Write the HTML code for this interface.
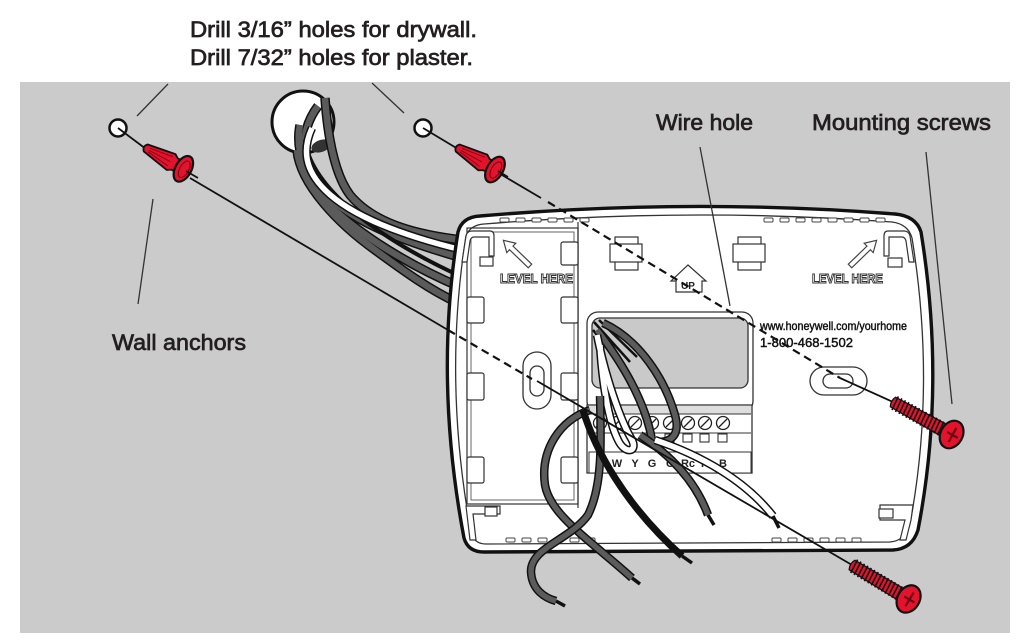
<!DOCTYPE html>
<html><head><meta charset="utf-8"><style>
html,body{margin:0;padding:0;background:#fff;}
svg{display:block;}
.lbl{font-family:"Liberation Sans",Arial,sans-serif;font-size:22px;fill:#231f20;stroke:#231f20;stroke-width:0.7;}
.sm{font-family:"Liberation Sans",Arial,sans-serif;}
</style></head><body>
<svg width="1024" height="640" viewBox="0 0 1024 640" xmlns="http://www.w3.org/2000/svg">
<rect x="0" y="0" width="1024" height="640" fill="#fff"/>
<rect x="20" y="82" width="990" height="551" fill="#cbcbcb"/>

<!-- labels -->
<text class="lbl" x="190" y="37" textLength="287" lengthAdjust="spacingAndGlyphs">Drill 3/16” holes for drywall.</text>
<text class="lbl" x="190" y="65" textLength="283" lengthAdjust="spacingAndGlyphs">Drill 7/32” holes for plaster.</text>
<text class="lbl" x="656" y="130" textLength="97" lengthAdjust="spacingAndGlyphs">Wire hole</text>
<text class="lbl" x="812" y="130" textLength="179" lengthAdjust="spacingAndGlyphs">Mounting screws</text>
<text class="lbl" x="112" y="350" textLength="134" lengthAdjust="spacingAndGlyphs">Wall anchors</text>

<!-- leader lines -->
<g stroke="#333" stroke-width="1.3" fill="none">
<path d="M168 84 L137 116"/>
<path d="M372 83 L404 113"/>
<path d="M153 199 L138 304"/>
<path d="M926 152 L952 404"/>
</g>

<!-- drill holes -->
<circle cx="118" cy="128" r="8.5" fill="#fff" stroke="#111" stroke-width="2.5"/>
<circle cx="423" cy="128" r="8.5" fill="#fff" stroke="#111" stroke-width="2.5"/>

<!-- axis lines outside -->
<g stroke="#111" stroke-width="1.8" fill="none">
<path d="M118 128 L146 149"/>
<path d="M423 128 L458 149"/>
<path d="M190 178 L448 330"/>
<path d="M502 175 L541 198"/>
</g>

<!-- wall hole -->
<circle cx="303" cy="122" r="31" fill="#fff" stroke="#111" stroke-width="3"/>
<ellipse cx="321" cy="146" rx="10" ry="6" fill="#333" transform="rotate(-20 321 146)"/>

<!-- bundle wires -->
<g fill="none" stroke-linecap="butt">
<g stroke="#111" stroke-width="9.5">
<path d="M325 98 C328 140 335 175 350 195 C375 225 420 235 462 240"/>
<path d="M318 106 C300 130 300 160 318 185 C345 220 400 240 462 258"/>
<path d="M300 125 C295 150 305 185 340 215 C375 245 420 270 460 287"/>
<path d="M297 150 C300 185 340 225 375 250 C405 272 430 290 458 303"/>
</g>
<g stroke="#5b5b5b" stroke-width="6.5">
<path d="M325 98 C328 140 335 175 350 195 C375 225 420 235 462 240"/>
<path d="M318 106 C300 130 300 160 318 185 C345 220 400 240 462 258"/>
<path d="M300 125 C295 150 305 185 340 215 C375 245 420 270 460 287"/>
<path d="M297 150 C300 185 340 225 375 250 C405 272 430 290 458 303"/>
</g>
<path d="M305 140 C310 180 360 230 460 276" stroke="#111" stroke-width="4"/>
<path d="M312 128 C302 150 305 170 325 190 C350 215 400 235 462 250" stroke="#111" stroke-width="8.5"/>
<path d="M312 128 C302 150 305 170 325 190 C350 215 400 235 462 250" stroke="#fff" stroke-width="5.5"/>
</g>

<!-- thermostat body -->
<path d="M480 216 Q690 198 895 214 Q916 216 921 232 Q946 385 918 530 Q912 549 893 550 L484 552 Q468 552 464 538 Q434 380 458 232 Q462 217 480 216 Z" fill="#fff" stroke="#111" stroke-width="3.4"/>
<path d="M484 224 Q690 207 892 222 Q908 224 912 238 Q936 385 910 524 Q905 541 890 542 L486 544 Q474 544 471 532 Q443 380 466 236 Q470 225 484 224 Z" fill="none" stroke="#333" stroke-width="1.3"/>

<!-- top/bottom dashes -->
<g fill="#fff" stroke="#444" stroke-width="1">
<rect x="500" y="218" width="9" height="4" rx="1"/><rect x="516" y="218" width="9" height="4" rx="1"/><rect x="532" y="218" width="9" height="4" rx="1"/><rect x="548" y="218" width="9" height="4" rx="1"/><rect x="564" y="218" width="9" height="4" rx="1"/><rect x="580" y="218" width="9" height="4" rx="1"/>
<rect x="764" y="218" width="9" height="4" rx="1"/><rect x="780" y="218" width="9" height="4" rx="1"/><rect x="796" y="218" width="9" height="4" rx="1"/><rect x="812" y="218" width="9" height="4" rx="1"/><rect x="828" y="218" width="9" height="4" rx="1"/><rect x="844" y="218" width="9" height="4" rx="1"/><rect x="860" y="218" width="9" height="4" rx="1"/><rect x="876" y="218" width="9" height="4" rx="1"/>
<rect x="506" y="538" width="9" height="4" rx="1"/><rect x="522" y="538" width="9" height="4" rx="1"/><rect x="538" y="538" width="9" height="4" rx="1"/><rect x="554" y="538" width="9" height="4" rx="1"/><rect x="570" y="538" width="9" height="4" rx="1"/><rect x="586" y="538" width="9" height="4" rx="1"/>
<rect x="772" y="538" width="9" height="4" rx="1"/><rect x="788" y="538" width="9" height="4" rx="1"/><rect x="804" y="538" width="9" height="4" rx="1"/><rect x="820" y="538" width="9" height="4" rx="1"/><rect x="836" y="538" width="9" height="4" rx="1"/><rect x="852" y="538" width="9" height="4" rx="1"/>
</g>

<!-- left plate -->
<g fill="none" stroke="#333" stroke-width="1.2">
<rect x="467" y="228" width="111" height="276"/>
<rect x="471" y="232" width="103" height="268" stroke="#555" stroke-width="0.9"/>
<path d="M578 222 L578 508"/>
</g>
<g fill="#fff" stroke="#333" stroke-width="1.2">
<rect x="467" y="297" width="17" height="26" rx="2"/>
<rect x="467" y="373" width="17" height="27" rx="2"/>
<rect x="467" y="457" width="17" height="26" rx="2"/>
<rect x="561" y="242" width="17" height="23" rx="2"/>
<rect x="561" y="297" width="17" height="26" rx="2"/>
<rect x="561" y="373" width="17" height="27" rx="2"/>
<rect x="561" y="457" width="17" height="26" rx="2"/>
</g>

<!-- corner clips -->
<g fill="#fff" stroke="#333" stroke-width="1.2">
<path d="M462 262 L466 236 Q467 231 472 231 L490 231 Q494 231 494 236 L494 256 L489 256 L489 237 L474 237 Q471 237 470 241 L467 262 Z"/>
<rect x="480" y="257" width="13" height="9"/>
<path d="M914 262 L910 236 Q909 231 904 231 L888 231 Q884 231 884 236 L884 256 L889 256 L889 237 L902 237 Q905 237 906 241 L909 262 Z"/>
<rect x="888" y="258" width="14" height="9"/>
<path d="M466 506 L500 506 L500 514 L473 514 L476 540 L470 540 Z"/>
<rect x="485" y="507" width="12" height="9"/>
<path d="M913 505 L880 505 L880 520 L905 520 L900 540 L906 540 L911 520 Z"/>
<rect x="879" y="509" width="14" height="9"/>
</g>

<!-- level arrows -->
<g fill="#fff" stroke="#444" stroke-width="1.2">
<polygon points="0,-2.5 26,-2.5 26,-6.5 37,0 26,6.5 26,2.5 0,2.5" transform="translate(530 266) rotate(-136)"/>
<polygon points="0,-2.5 26,-2.5 26,-6.5 37,0 26,6.5 26,2.5 0,2.5" transform="translate(850 266) rotate(-44)"/>
</g>
<text class="sm" x="500" y="283" font-size="13" font-weight="bold" fill="#fff" stroke="#333" stroke-width="1" textLength="73" lengthAdjust="spacingAndGlyphs">LEVEL  HERE</text>
<text class="sm" x="812" y="283" font-size="13" font-weight="bold" fill="#fff" stroke="#333" stroke-width="1" textLength="71" lengthAdjust="spacingAndGlyphs">LEVEL  HERE</text>

<!-- top clips -->
<g fill="#fff" stroke="#333" stroke-width="1.2">
<rect x="615" y="237" width="23" height="8"/>
<rect x="615" y="261" width="23" height="9"/>
<rect x="610" y="244" width="32" height="18"/>
<rect x="738" y="237" width="23" height="8"/>
<rect x="738" y="261" width="23" height="9"/>
<rect x="733" y="244" width="32" height="18"/>
<polygon points="688,265 706,281 702,281 702,292 676,292 676,281 671,281"/>
</g>
<text class="sm" x="688" y="289" font-size="10" font-weight="bold" fill="#222" text-anchor="middle">UP</text>

<!-- url -->
<text class="sm" x="760" y="330" font-size="12" fill="#111" stroke="#111" stroke-width="0.45" textLength="147" lengthAdjust="spacingAndGlyphs">www.honeywell.com/yourhome</text>
<text class="sm" x="760" y="347" font-size="13" fill="#111" stroke="#111" stroke-width="0.45" textLength="93" lengthAdjust="spacingAndGlyphs">1-800-468-1502</text>

<!-- slots -->
<g fill="#fff" stroke="#333" stroke-width="1.3">
<rect x="523" y="352" width="28" height="57" rx="14"/>
<rect x="530" y="366" width="14" height="30" rx="7"/>
<rect x="810" y="367" width="57" height="28" rx="14"/>
<rect x="823" y="374" width="30" height="14" rx="7"/>
</g>

<!-- display frame and terminal block -->
<rect x="587" y="312" width="166" height="100" rx="11" fill="#fff" stroke="#333" stroke-width="1.3"/>
<rect x="592" y="318" width="156" height="70" rx="8" fill="#c9c9c9" stroke="#333" stroke-width="1.3"/>
<rect x="587" y="405" width="165" height="68" fill="#fff" stroke="#333" stroke-width="1.3"/>
<rect x="588" y="406" width="163" height="8" fill="#ddd" stroke="none"/>
<path d="M588 414 L751 414 M588 433 L751 433" stroke="#333" stroke-width="1"/>
<g fill="#fff" stroke="#222" stroke-width="1.3">
<circle cx="600" cy="423" r="6.5"/><circle cx="617" cy="423" r="6.5"/><circle cx="635" cy="423" r="6.5"/><circle cx="652" cy="423" r="6.5"/><circle cx="670" cy="423" r="6.5"/><circle cx="688" cy="423" r="6.5"/><circle cx="705" cy="423" r="6.5"/><circle cx="723" cy="423" r="6.5"/>
</g>
<path d="M596 427 L604 419 M613 427 L621 419 M631 427 L639 419 M648 427 L656 419 M666 427 L674 419 M684 427 L692 419 M701 427 L709 419 M719 427 L727 419" stroke="#222" stroke-width="1.3"/>
<g fill="#fff" stroke="#333" stroke-width="1.1">
<rect x="665" y="434" width="9" height="8"/><rect x="683" y="434" width="9" height="8"/><rect x="700" y="434" width="9" height="8"/><rect x="718" y="434" width="9" height="8"/>
</g>
<rect x="589" y="452" width="162" height="21" fill="#fff" stroke="#333" stroke-width="1"/>
<g class="sm" font-size="11" font-weight="bold" fill="#222" text-anchor="middle">
<text x="600" y="467">R</text><text x="617" y="467">W</text><text x="635" y="467">Y</text><text x="652" y="467">G</text><text x="670" y="467">C</text><text x="688" y="467">Rc</text><text x="705" y="467">R</text><text x="723" y="467">B</text>
</g>

<!-- dashed lines -->
<g stroke="#111" stroke-width="2.2" stroke-dasharray="8 5" fill="none">
<path d="M448 330 L532 379"/>
<path d="M548 202 L840 378"/>
</g>

<!-- wires in window -->
<g fill="none">
<path d="M594 322 L630 362 M599 320 L637 357 M593 330 L626 368" stroke="#111" stroke-width="2.5"/>
<path d="M603 323 C640 340 665 380 675 415 C682 440 665 445 650 440" stroke="#111" stroke-width="8.5"/>
<path d="M603 323 C640 340 665 380 675 415 C682 440 665 445 650 440" stroke="#5b5b5b" stroke-width="5.5"/>
<path d="M597 330 C620 360 645 400 652 440" stroke="#111" stroke-width="8.5"/>
<path d="M597 330 C620 360 645 400 652 440" stroke="#5b5b5b" stroke-width="5.5"/>
<path d="M597 335 C605 375 620 420 632 440 C638 452 625 455 618 440 C608 420 602 380 600 345" stroke="#111" stroke-width="8.5"/>
<path d="M597 335 C605 375 620 420 632 440 C638 452 625 455 618 440 C608 420 602 380 600 345" stroke="#fff" stroke-width="5.5"/>
<!-- out wires -->
<path d="M640 435 C670 455 695 480 708 515" stroke="#111" stroke-width="8.5"/>
<path d="M640 435 C670 455 695 480 708 515" stroke="#5b5b5b" stroke-width="5.5"/>
<path d="M708 515 L714 525" stroke="#111" stroke-width="3.5"/>
<path d="M655 440 C700 455 745 480 773 516" stroke="#111" stroke-width="8.5"/>
<path d="M655 440 C700 455 745 480 773 516" stroke="#fff" stroke-width="5.5"/>
<path d="M773 516 L779 528" stroke="#111" stroke-width="3.5"/>
<path d="M590 410 C560 420 540 450 545 485 C550 515 590 540 632 578" stroke="#111" stroke-width="8.5"/>
<path d="M590 410 C560 420 540 450 545 485 C550 515 590 540 632 578" stroke="#5b5b5b" stroke-width="5.5"/>
<path d="M632 578 L640 584" stroke="#111" stroke-width="3.5"/>
<path d="M600 396 C601 440 603 485 588 515 C570 540 530 548 531 572 C532 590 545 598 556 601" stroke="#111" stroke-width="8.5"/>
<path d="M600 396 C601 440 603 485 588 515 C570 540 530 548 531 572 C532 590 545 598 556 601" stroke="#5b5b5b" stroke-width="5.5"/>
<path d="M556 601 L565 606" stroke="#111" stroke-width="3.5"/>
<path d="M583 410 C595 450 625 505 682 556" stroke="#111" stroke-width="7"/>
<path d="M682 556 L692 563" stroke="#111" stroke-width="3.5"/>
</g>

<!-- solid continuation lines -->
<g stroke="#111" stroke-width="1.8" fill="none">
<path d="M537 381 L852 565"/>
<path d="M840 378 L893 402"/>
</g>

<!-- anchors -->
<g transform="translate(144 147) rotate(29)">
<path d="M2 -4 Q-2 0 2 4 L31 9 L35 6.5 L40 6.5 L40 -6.5 L35 -6.5 L31 -9 Z" fill="#e3132d" stroke="#111" stroke-width="1.8"/>
<path d="M6 -1.8 L30 -5.5 M6 0.5 L30 0 M6 2.2 L30 5" stroke="#8a0010" stroke-width="1"/>
<ellipse cx="45" cy="0" rx="8" ry="14" fill="#e3132d" stroke="#111" stroke-width="2.2"/>
<ellipse cx="46" cy="0" rx="4.5" ry="9" fill="none" stroke="#7a0010" stroke-width="1.1"/>
</g>
<g transform="translate(456 147) rotate(30)">
<path d="M2 -4 Q-2 0 2 4 L31 9 L35 6.5 L40 6.5 L40 -6.5 L35 -6.5 L31 -9 Z" fill="#e3132d" stroke="#111" stroke-width="1.8"/>
<path d="M6 -1.8 L30 -5.5 M6 0.5 L30 0 M6 2.2 L30 5" stroke="#8a0010" stroke-width="1"/>
<ellipse cx="45" cy="0" rx="8" ry="14" fill="#e3132d" stroke="#111" stroke-width="2.2"/>
<ellipse cx="46" cy="0" rx="4.5" ry="9" fill="none" stroke="#7a0010" stroke-width="1.1"/>
</g>
<path d="M186 171 L198 178 M498 171 L508 177" stroke="#111" stroke-width="1.8"/>

<!-- screws -->
<g transform="translate(893 402) rotate(29)">
<path d="M0 -5.5 Q-3 0 0 5.5 L58 6.5 L58 -6.5 Z" fill="#e3132d" stroke="#111" stroke-width="1.3"/>
<path d="M2 -7.5L3 7.5M6 -7.5L7 7.5M10 -7.5L11 7.5M14 -7.5L15 7.5M18 -7.5L19 7.5M22 -7.5L23 7.5M26 -7.5L27 7.5M30 -7.5L31 7.5M34 -7.5L35 7.5M38 -7.5L39 7.5M42 -7.5L43 7.5M46 -7.5L47 7.5M50 -7.5L51 7.5M54 -7.5L55 7.5" stroke="#111" stroke-width="1.6"/>
<ellipse cx="67" cy="0" rx="11" ry="14.5" fill="#e3132d" stroke="#111" stroke-width="2.2"/>
<path d="M68 -8 L68 8 M62 0 L74 0" stroke="#6a0010" stroke-width="2.2"/>
</g>
<g transform="translate(852 565) rotate(31)">
<path d="M0 -5.5 Q-3 0 0 5.5 L58 6.5 L58 -6.5 Z" fill="#e3132d" stroke="#111" stroke-width="1.3"/>
<path d="M2 -7.5L3 7.5M6 -7.5L7 7.5M10 -7.5L11 7.5M14 -7.5L15 7.5M18 -7.5L19 7.5M22 -7.5L23 7.5M26 -7.5L27 7.5M30 -7.5L31 7.5M34 -7.5L35 7.5M38 -7.5L39 7.5M42 -7.5L43 7.5M46 -7.5L47 7.5M50 -7.5L51 7.5M54 -7.5L55 7.5" stroke="#111" stroke-width="1.6"/>
<ellipse cx="66" cy="0" rx="11" ry="14.5" fill="#e3132d" stroke="#111" stroke-width="2.2"/>
<path d="M67 -8 L67 8 M61 0 L73 0" stroke="#6a0010" stroke-width="2.2"/>
</g>

<!-- wire hole leader on top -->
<path d="M700 147 L730 306" stroke="#333" stroke-width="1.3"/>
</svg>
</body></html>
